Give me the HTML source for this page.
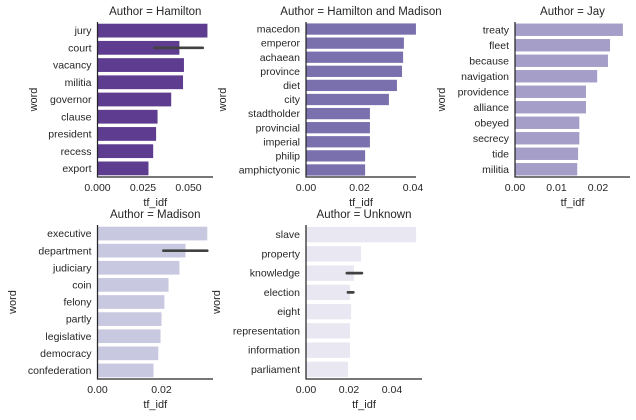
<!DOCTYPE html>
<html><head><meta charset="utf-8"><style>
body{margin:0;background:#fff;}
svg{display:block;font-family:"Liberation Sans","DejaVu Sans",sans-serif;}
</style></head><body>
<svg id="chart" width="636" height="420" viewBox="0 0 636 420"></svg>
<script>
const hamWords=["jury","court","vacancy","militia","governor","clause","president","recess","export"];
const hamVals=[0.0604,0.045,0.0475,0.047,0.0405,0.033,0.0322,0.0306,0.028];
const hamErr=[null,[0.0313,0.0578],null,null,null,null,null,null,null];
const hamTicks=[0,0.025,0.05];
const hamTickLabels=["0.000","0.025","0.050"];

const hmWords=["macedon","emperor","achaean","province","diet","city","stadtholder","provincial","imperial","philip","amphictyonic"];
const hmVals=[0.0411,0.0366,0.0363,0.0359,0.034,0.031,0.0239,0.0239,0.0239,0.0221,0.0221];
const hmTicks=[0,0.02,0.04];
const hmTickLabels=["0.00","0.02","0.04"];

const jayWords=["treaty","fleet","because","navigation","providence","alliance","obeyed","secrecy","tide","militia"];
const jayVals=[0.026,0.0229,0.0224,0.0198,0.0171,0.0171,0.0155,0.0155,0.0152,0.015];
const jayTicks=[0,0.01,0.02];
const jayTickLabels=["0.00","0.01","0.02"];

const madWords=["executive","department","judiciary","coin","felony","partly","legislative","democracy","confederation"];
const madVals=[0.0343,0.0275,0.0256,0.0222,0.0209,0.02,0.0197,0.019,0.0175];
const madErr=[null,[0.0206,0.0343],null,null,null,null,null,null,null];
const madTicks=[0,0.02];
const madTickLabels=["0.00","0.02"];

const unkWords=["slave","property","knowledge","election","eight","representation","information","parliament"];
const unkVals=[0.0512,0.0256,0.0223,0.0205,0.021,0.0205,0.0205,0.0195];
const unkErr=[null,null,[0.019,0.026],[0.0195,0.022],null,null,null,null];
const unkTicks=[0,0.02,0.04];
const unkTickLabels=["0.00","0.02","0.04"];

const NS="http://www.w3.org/2000/svg";
const svg=document.getElementById("chart");
function mk(tag,attrs,parent){const e=document.createElementNS(NS,tag);for(const k in attrs)e.setAttribute(k,attrs[k]);(parent||svg).appendChild(e);return e;}

function panel(key,title,words,vals,errs,ticks,tickLabels,L,R,T,B,pxPerUnit,color,yx){
  const g=mk("g",{});
  
  
  const x=v=>L+v*pxPerUnit;
  const band=(B-T)/words.length;
  const y=i=>T+band*i;
  words.forEach((w,i)=>{
    const r=mk("rect",{x:L,y:y(i)+band*0.1,width:x(vals[i])-L,height:band*0.8,fill:color},g);
    
    
    const t=mk("text",{x:L-6,y:y(i)+band/2+3.6,"text-anchor":"end","font-size":"10.5",fill:"#262626"},g);
    t.textContent=w;
    
    
    if(errs&&errs[i]){
      const l=mk("line",{x1:x(errs[i][0]),x2:x(errs[i][1]),y1:y(i)+band/2,y2:y(i)+band/2,stroke:"#424242","stroke-width":"2.7","stroke-linecap":"round"},g);
      
      
    }
  });
  const ax=mk("path",{d:`M${L},${T} V${B} H${R}`,fill:"none",stroke:"#262626","stroke-width":"1.25"},g);
  
  
  ticks.forEach((v,i)=>{
    const t=mk("text",{x:x(v),y:B+14,"text-anchor":"middle","font-size":"10.5",fill:"#262626"},g);
    t.textContent=tickLabels[i];
    
    
  });
  const xl=mk("text",{x:(L+R)/2,y:B+29,"text-anchor":"middle","font-size":"11",fill:"#262626"},g);
  xl.textContent="tf_idf";
  
  
  const yl=mk("text",{x:yx,y:(T+B)/2,"text-anchor":"middle","font-size":"11",fill:"#262626",transform:`rotate(-90 ${yx} ${(T+B)/2})`},g);
  yl.textContent="word";
  
  
  const tt=mk("text",{x:(L+R)/2,y:T-7,"text-anchor":"middle","font-size":"11.5",fill:"#262626"},g);
  tt.textContent=title;
  
  
}
panel("hamilton","Author = Hamilton",hamWords,hamVals,hamErr,hamTicks,hamTickLabels,97.5,213,22,177,1820,"#5e3c8f",37);
panel("hamilton-madison","Author = Hamilton and Madison",hmWords,hmVals,null,hmTicks,hmTickLabels,306,416,22,177,2675,"#7b70ae",226);
panel("jay","Author = Jay",jayWords,jayVals,null,jayTicks,jayTickLabels,515,630,22,177,4150,"#a49ec8",445);
panel("madison","Author = Madison",madWords,madVals,madErr,madTicks,madTickLabels,97.5,213,225,379,3200,"#c9c8e1",16);
panel("unknown","Author = Unknown",unkWords,unkVals,unkErr,unkTicks,unkTickLabels,306,422,225,379,2150,"#e9e7f2",220);
</script>
</body></html>
